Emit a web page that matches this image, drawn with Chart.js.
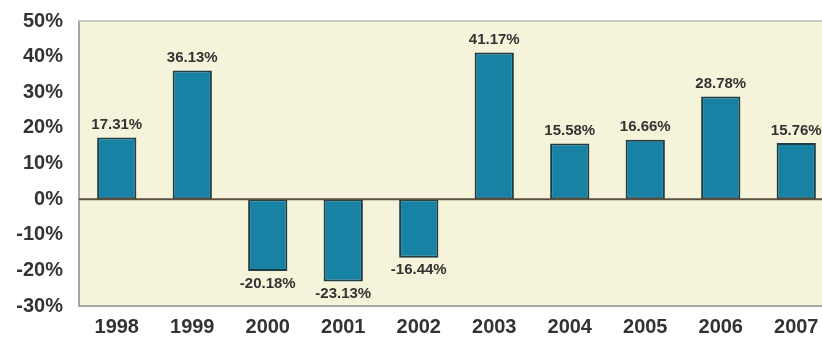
<!DOCTYPE html>
<html lang="en">
<head>
  <meta charset="UTF-8" />
  <title>Annual returns 1998-2007</title>
  <script src="https://cdn.jsdelivr.net/npm/chart.js"></script>
  <style>
    html, body { margin: 0; padding: 0; background: #fff; overflow: hidden; }
    #wrap { width: 834px; height: 343px; }
  </style>
</head>
<body>
  <div id="wrap"><canvas id="chart" width="834" height="343"></canvas></div>
  <script>
    const years = ["1998", "1999", "2000", "2001", "2002", "2003", "2004", "2005", "2006", "2007"];
    const returns = [17.31, 36.13, -20.18, -23.13, -16.44, 41.17, 15.58, 16.66, 28.78, 15.76];
    const yTicks = [-30, -20, -10, 0, 10, 20, 30, 40, 50];

    // plot background + value labels
    const decor = {
      id: "decor",
      beforeDraw(chart) {
        const a = chart.chartArea, ctx = chart.ctx;
        ctx.save();
        ctx.fillStyle = "#f5f3da";
        ctx.fillRect(a.left, a.top, a.right - a.left, a.bottom - a.top);
        ctx.restore();
      },
      afterDatasetsDraw(chart) {
        const ctx = chart.ctx;
        const meta = chart.getDatasetMeta(0);
        ctx.save();
        ctx.font = "bold 15px 'Liberation Sans', Arial, sans-serif";
        ctx.fillStyle = "#333";
        ctx.textAlign = "center";
        meta.data.forEach((bar, i) => {
          const v = returns[i];
          const txt = v.toFixed(2) + "%";
          if (v >= 0) {
            ctx.textBaseline = "bottom";
            ctx.fillText(txt, bar.x, bar.y - 5);
          } else {
            ctx.textBaseline = "top";
            ctx.fillText(txt, bar.x, bar.y + 5);
          }
        });
        // zero line
        const y0 = chart.scales.y.getPixelForValue(0);
        ctx.strokeStyle = "#5a5040";
        ctx.lineWidth = 2;
        ctx.beginPath();
        ctx.moveTo(chart.chartArea.left, y0);
        ctx.lineTo(chart.chartArea.right, y0);
        ctx.stroke();
        ctx.restore();
      }
    };

    new Chart(document.getElementById("chart"), {
      type: "bar",
      data: {
        labels: years,
        datasets: [{
          data: returns,
          backgroundColor: "#1782a4",
          borderColor: "#1f3d45",
          borderWidth: 2,
          borderSkipped: false,
          barPercentage: 0.52,
          categoryPercentage: 1
        }]
      },
      options: {
        responsive: false,
        animation: false,
        layout: { padding: { top: 21, left: 0, right: 0, bottom: 0 } },
        plugins: { legend: { display: false }, tooltip: { enabled: false } },
        scales: {
          x: {
            grid: { display: false, drawTicks: false },
            border: { display: true, color: "#a8a8a0", width: 2 },
            ticks: {
              color: "#333",
              font: { family: "'Liberation Sans', Arial, sans-serif", size: 20, weight: "bold" },
              padding: 9
            },
            afterFit(s) { s.height = 37; s.paddingLeft = 0; s.paddingRight = 0; }
          },
          y: {
            min: -30,
            max: 50,
            afterBuildTicks(s) { s.ticks = yTicks.map(v => ({ value: v })); },
            grid: { display: false, drawTicks: false },
            border: { display: true, color: "#a8a8a0", width: 2 },
            ticks: {
              color: "#333",
              font: { family: "'Liberation Sans', Arial, sans-serif", size: 20, weight: "bold" },
              padding: 16,
              callback: v => v + "%"
            },
            afterFit(s) { s.width = 79; s.paddingTop = 0; s.paddingBottom = 0; }
          }
        }
      },
      plugins: [decor, {
        id: "topBorder",
        afterDraw(chart) {
          const a = chart.chartArea, ctx = chart.ctx;
          ctx.save();
          ctx.strokeStyle = "#c8c8c0";
          ctx.lineWidth = 2;
          ctx.beginPath();
          ctx.moveTo(a.left, a.top);
          ctx.lineTo(a.right, a.top);
          ctx.stroke();
          ctx.restore();
        }
      }]
    });
  </script>
</body>
</html>
